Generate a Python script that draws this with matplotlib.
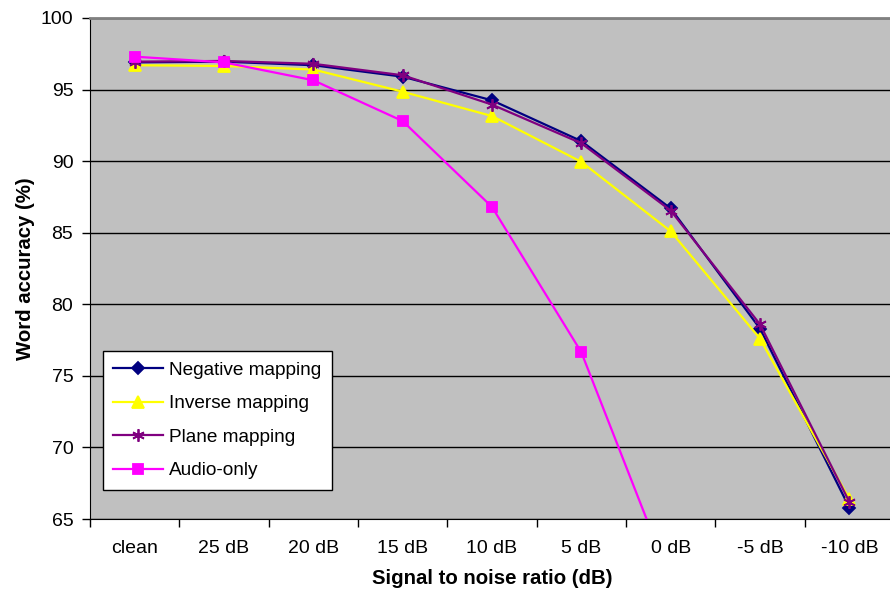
import numpy as np
import matplotlib
matplotlib.use('Agg')
import matplotlib.pyplot as plt

plt.rcParams['font.family'] = ['Liberation Sans', 'DejaVu Sans']

snr_labels = ['clean', '25 dB', '20 dB', '15 dB', '10 dB', '5 dB', '0 dB', '-5 dB', '-10 dB']

negative_mapping = [96.9, 96.95, 96.7, 95.9, 94.25, 91.4, 86.7, 78.3, 65.8]
inverse_mapping = [96.7, 96.65, 96.4, 94.85, 93.15, 89.95, 85.1, 77.6, 66.4]
plane_mapping = [96.95, 97.0, 96.8, 96.0, 93.95, 91.25, 86.55, 78.6, 66.2]
audio_only = [97.3, 96.9, 95.65, 92.8, 86.8, 76.65, 60.7, np.nan, np.nan]

# line colour, marker, marker size
series = [
    ('Negative mapping', negative_mapping, '#000080', 'D', 6.5),
    ('Inverse mapping', inverse_mapping, '#FFFF00', '^', 8),
    ('Plane mapping', plane_mapping, '#800080', (6, 2, 0), 9),
    ('Audio-only', audio_only, '#FF00FF', 's', 7.5),
]

fig = plt.figure(figsize=(8.9, 5.92), dpi=100)
fig.patch.set_facecolor('white')
ax = fig.add_axes([90 / 890, 73 / 592, 804 / 890, 501 / 592])
ax.set_facecolor('#C0C0C0')

x = np.arange(len(snr_labels))
for name, vals, col, mk, ms in series:
    ax.plot(x, vals, color=col, lw=1.6, marker=mk, markersize=ms,
            markerfacecolor=col, markeredgecolor=col, markeredgewidth=1.3,
            label=name, clip_on=True)

ax.set_xlim(-0.5, len(snr_labels) - 0.5)
ax.set_ylim(65, 100)
ax.set_yticks(np.arange(65, 101, 5))
ax.yaxis.grid(True, color='black', lw=1)
ax.set_axisbelow(True)

ax.set_xticks(x)
ax.set_xticklabels(snr_labels)
ax.set_xticks(np.arange(-0.5, len(snr_labels), 1), minor=True)
ax.tick_params(axis='x', which='major', length=0, pad=15, labelsize=14)
ax.tick_params(axis='x', which='minor', length=6, width=1, direction='out')
ax.tick_params(axis='y', length=6, width=1, direction='out', pad=6, labelsize=14)

ax.spines['top'].set_color('#808080')
ax.spines['top'].set_linewidth(2)
ax.spines['right'].set_visible(False)
ax.spines['left'].set_color('black')
ax.spines['bottom'].set_color('black')

ax.set_xlabel('Signal to noise ratio (dB)', fontsize=14.7, fontweight='bold', labelpad=9)
ax.set_ylabel('Word accuracy (%)', fontsize=14.7, fontweight='bold', labelpad=4)

leg = ax.legend(loc='lower left', bbox_to_anchor=(0.016, 0.058), borderaxespad=0,
                fontsize=13.7, handlelength=2.6, labelspacing=0.85, handletextpad=0.35,
                borderpad=0.55, fancybox=False, framealpha=1, edgecolor='black')
leg.get_frame().set_linewidth(1)

fig.savefig('out.png', dpi=100)
